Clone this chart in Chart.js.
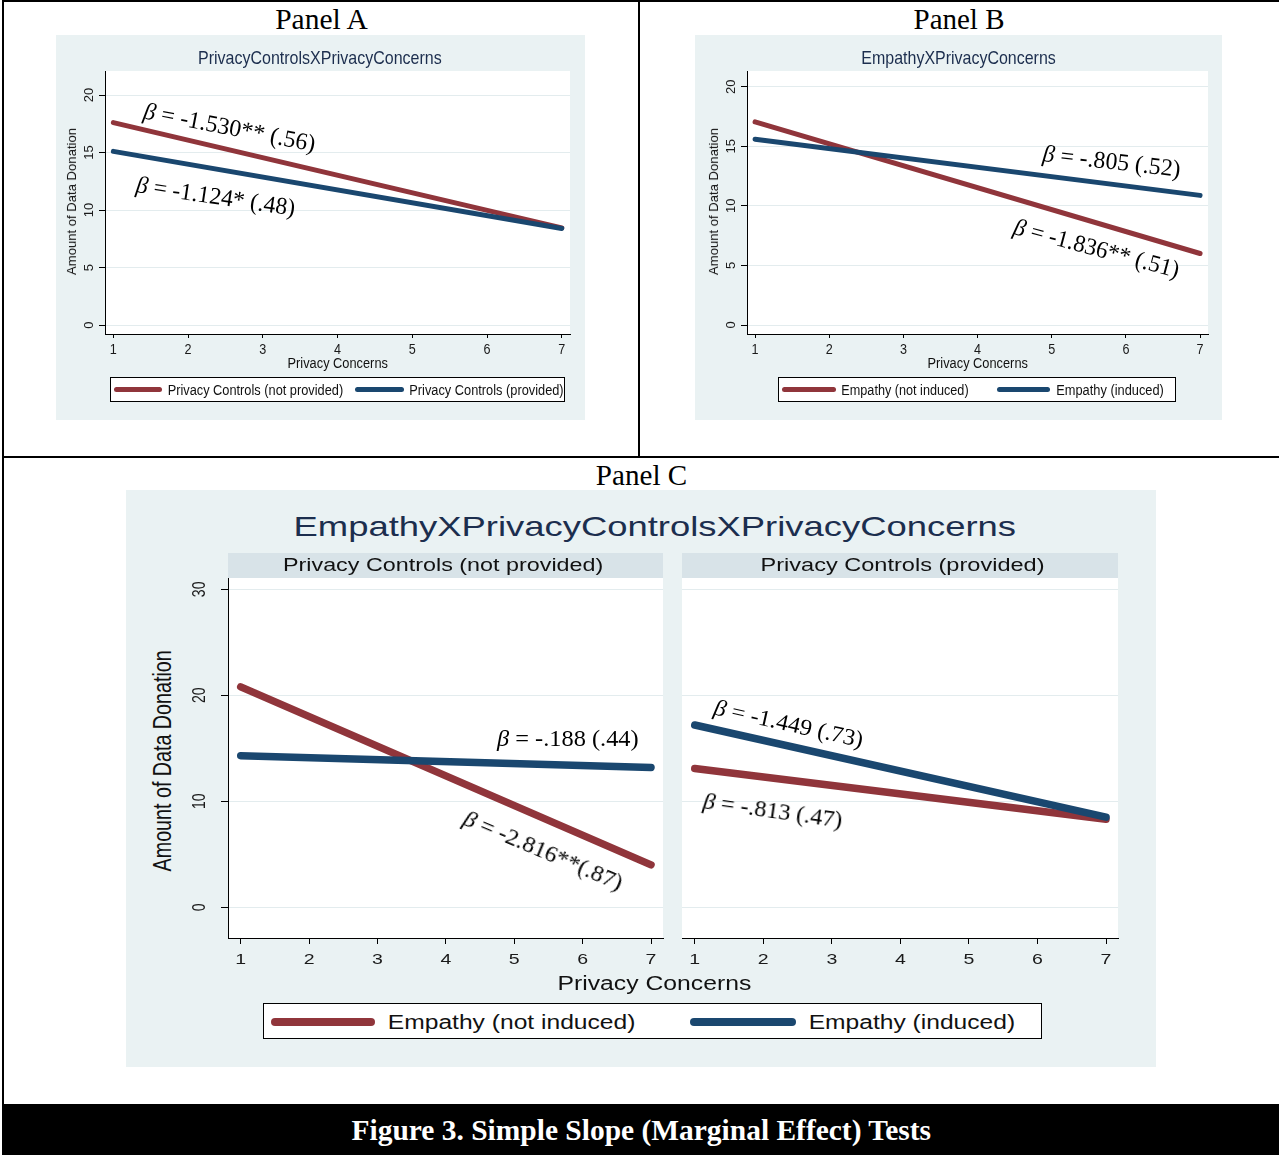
<!DOCTYPE html>
<html><head><meta charset="utf-8">
<script src="https://cdn.jsdelivr.net/npm/chart.js@4.4.1/dist/chart.umd.min.js"></script>
<style>
html,body{margin:0;padding:0;background:#fff;}
body{width:1279px;height:1155px;position:relative;overflow:hidden;}
.box{position:absolute;}
.txt{position:absolute;white-space:nowrap;line-height:1;transform-origin:50% 50%;}
canvas{position:absolute;}
</style></head><body>
<script>
// ---------------- DATA ----------------
const xValues = [1, 7];                 // Privacy Concerns (ends of each fitted line)
const xTicks = [1, 2, 3, 4, 5, 6, 7];
const yTicksAB = [0, 5, 10, 15, 20];
const yTicksC = [0, 10, 20, 30];

const labelsPanelA = ['Privacy Controls (not provided)', 'Privacy Controls (provided)'];
const labelsEmpathy = ['Empathy (not induced)', 'Empathy (induced)'];
const stripLabelsC = ['Privacy Controls (not provided)', 'Privacy Controls (provided)'];

const panelA_notProvided = [17.6, 8.45];
const panelA_provided = [15.1, 8.4];
const panelB_notInduced = [17.05, 6.0];
const panelB_induced = [15.6, 10.88];
const panelC_noCtrl_notInduced = [20.8, 4.0];
const panelC_noCtrl_induced = [14.3, 13.2];
const panelC_ctrl_notInduced = [13.1, 8.3];
const panelC_ctrl_induced = [17.2, 8.5];

const betaA = ['-1.530** (.56)', '-1.124* (.48)'];
const betaB = ['-.805 (.52)', '-1.836** (.51)'];
const betaC = ['-.188 (.44)', '-2.816**(.87)', '-1.449 (.73)', '-.813 (.47)'];

// ---------------- STYLE ----------------
const RED = '#90353b', BLUE = '#1a476f', BG = '#eaf2f3', GRID = '#e3ecee', NAVY = '#1c2e4e';
const SANS = '"Liberation Sans", Arial, sans-serif';
const SERIF = '"Liberation Serif", "Times New Roman", serif';

function box(l, t, w, h, css) {
  const d = document.createElement('div'); d.className = 'box';
  Object.assign(d.style, {left: l + 'px', top: t + 'px', width: w + 'px', height: h + 'px'}, css || {});
  document.body.appendChild(d); return d;
}
function bar(x1, x2, cy, h, color) {
  box(x1, cy - h / 2, x2 - x1, h, {background: color, borderRadius: (h / 2) + 'px'});
}
function text(s) {
  const el = document.createElement('div'); el.className = 'txt';
  if (s.html) el.innerHTML = s.html; else el.textContent = s.t;
  el.style.fontFamily = s.serif ? SERIF : SANS;
  el.style.fontSize = s.size + 'px';
  el.style.color = s.color || '#111';
  if (s.bold) el.style.fontWeight = 'bold';
  document.body.appendChild(el);
  const nw = el.offsetWidth, nh = el.offsetHeight;
  const k = s.w ? s.w / nw : 1;
  el.style.left = (s.x - nw / 2) + 'px';
  el.style.top = (s.y - nh / 2) + 'px';
  el.style.transform = `scaleX(${s.sx || 1}) rotate(${s.rot || 0}deg) scaleX(${k})`;
  return el;
}

// ---------------- FRAME ----------------
box(2, 0, 1277, 2, {background: '#000'});
box(2, 0, 2, 1155, {background: '#000'});
box(638, 0, 2, 457, {background: '#000'});
box(2, 456, 1277, 2, {background: '#000'});
box(2, 1104, 1277, 51, {background: '#000'});

box(56, 35, 529, 385, {background: BG});
box(695, 35, 527, 385, {background: BG});
box(126, 490, 1030, 577, {background: BG});
box(228, 553, 435, 25, {background: '#d8e3e8'});
box(682, 553, 436, 25, {background: '#d8e3e8'});

// ---------------- CHARTS ----------------
const stataPlugin = {
  id: 'stataAxes',
  beforeDraw(chart) {
    const a = chart.chartArea, ctx = chart.ctx;
    ctx.save(); ctx.fillStyle = '#fff';
    ctx.fillRect(a.left, a.top, a.right - a.left, a.bottom - a.top);
    ctx.restore();
  },
  afterDraw(chart, args, o) {
    const ctx = chart.ctx, a = chart.chartArea;
    ctx.save();
    ctx.fillStyle = '#1a1a1a';
    ctx.textAlign = 'center'; ctx.textBaseline = 'alphabetic';
    ctx.font = `${o.xSize}px ${SANS}`;
    chart.scales.x.ticks.forEach(t => {
      const px = chart.scales.x.getPixelForValue(t.value);
      ctx.save(); ctx.translate(px, a.bottom + o.xOffset); ctx.scale(o.xStretch, 1);
      ctx.fillText(String(t.value), 0, o.xSize * 0.358); ctx.restore();
    });
    if (o.showY) {
      ctx.font = `${o.ySize}px ${SANS}`;
      chart.scales.y.ticks.forEach(t => {
        const py = chart.scales.y.getPixelForValue(t.value);
        ctx.save(); ctx.translate(a.left - o.yOffset, py); ctx.scale(o.yStretch, 1); ctx.rotate(-Math.PI / 2);
        ctx.fillText(String(t.value), 0, o.ySize * 0.358); ctx.restore();
      });
    }
    ctx.restore();
  }
};

function makeChart(s) {
  const m = {l: 45, t: 6, r: 6, b: 40};
  const W = s.plot.r - s.plot.l + m.l + m.r, H = s.plot.b - s.plot.t + m.t + m.b;
  const c = document.createElement('canvas');
  c.width = W; c.height = H;
  Object.assign(c.style, {left: (s.plot.l - m.l) + 'px', top: (s.plot.t - m.t) + 'px', width: W + 'px', height: H + 'px'});
  document.body.appendChild(c);
  return new Chart(c, {
    type: 'line',
    data: {
      datasets: s.series.map(se => ({
        label: se.label,
        data: xValues.map((x, i) => ({x: x, y: se.values[i]})),
        borderColor: se.color, backgroundColor: se.color,
        borderWidth: s.lineWidth, borderCapStyle: 'round', borderJoinStyle: 'round',
        pointRadius: 0, tension: 0, fill: false, order: se.order
      }))
    },
    options: {
      responsive: false, animation: false, devicePixelRatio: 1,
      layout: {padding: {left: 0, top: m.t, right: m.r, bottom: 0}},
      plugins: {
        legend: {display: false}, tooltip: {enabled: false}, title: {display: false},
        stataAxes: s.axes
      },
      scales: {
        x: {
          type: 'linear', min: s.xmin, max: s.xmax,
          afterBuildTicks: sc => { sc.ticks = xTicks.map(v => ({value: v})); },
          afterFit: sc => { sc.height = m.b; },
          ticks: {display: false},
          grid: {display: true, drawOnChartArea: false, drawTicks: true, tickLength: s.xTickLen, tickColor: '#000', tickWidth: 1},
          border: {display: true, color: '#000', width: 1}
        },
        y: {
          type: 'linear', min: s.ymin, max: s.ymax,
          afterBuildTicks: sc => { sc.ticks = s.yTicks.map(v => ({value: v})); },
          afterFit: sc => { sc.width = m.l; },
          ticks: {display: false},
          grid: {display: true, color: GRID, lineWidth: 1, drawTicks: s.axes.showY, tickLength: s.yTickLen, tickColor: '#000', tickWidth: 1},
          border: {display: s.axes.showY, color: '#000', width: 1}
        }
      }
    },
    plugins: [stataPlugin]
  });
}

const axesAB = {showY: true, xSize: 14, xStretch: 0.9, xOffset: 14.7, ySize: 13, yStretch: 1, yOffset: 16.2};
makeChart({
  plot: {l: 105, t: 71, r: 570, b: 334}, xmin: 0.888, xmax: 7.11, ymin: -0.78, ymax: 22.09,
  yTicks: yTicksAB, lineWidth: 5, xTickLen: 4, yTickLen: 6, axes: axesAB,
  series: [
    {label: labelsPanelA[0], values: panelA_notProvided, color: RED, order: 2},
    {label: labelsPanelA[1], values: panelA_provided, color: BLUE, order: 1}
  ]
});
makeChart({
  plot: {l: 747, t: 71, r: 1208, b: 334}, xmin: 0.891, xmax: 7.107, ymin: -0.755, ymax: 21.32,
  yTicks: yTicksAB, lineWidth: 5, xTickLen: 4, yTickLen: 6, axes: Object.assign({}, axesAB, {yOffset: 16.4}),
  series: [
    {label: labelsEmpathy[0], values: panelB_notInduced, color: RED, order: 2},
    {label: labelsEmpathy[1], values: panelB_induced, color: BLUE, order: 1}
  ]
});
const axesC = {showY: true, xSize: 15, xStretch: 1.3, xOffset: 20.5, ySize: 14, yStretch: 1.35, yOffset: 30};
makeChart({
  plot: {l: 228, t: 578, r: 663, b: 938}, xmin: 0.814, xmax: 7.175, ymin: -2.9, ymax: 31.07,
  yTicks: yTicksC, lineWidth: 7.5, xTickLen: 6, yTickLen: 7, axes: axesC,
  series: [
    {label: labelsEmpathy[0], values: panelC_noCtrl_notInduced, color: RED, order: 2},
    {label: labelsEmpathy[1], values: panelC_noCtrl_induced, color: BLUE, order: 1}
  ]
});
makeChart({
  plot: {l: 682, t: 578, r: 1118, b: 938}, xmin: 0.814, xmax: 7.175, ymin: -2.9, ymax: 31.07,
  yTicks: yTicksC, lineWidth: 7.5, xTickLen: 6, yTickLen: 7, axes: Object.assign({}, axesC, {showY: false}),
  series: [
    {label: labelsEmpathy[0], values: panelC_ctrl_notInduced, color: RED, order: 2},
    {label: labelsEmpathy[1], values: panelC_ctrl_induced, color: BLUE, order: 1}
  ]
});

// ---------------- LEGENDS ----------------
box(110, 377, 455, 25, {background: '#fff', border: '1px solid #000', boxSizing: 'border-box'});
bar(114, 162, 389.7, 5, RED); bar(355, 404, 389.7, 5, BLUE);
box(778, 377, 398, 25, {background: '#fff', border: '1px solid #000', boxSizing: 'border-box'});
bar(782, 836, 389.7, 5, RED); bar(997, 1050, 389.7, 5, BLUE);
box(263, 1003, 779, 36, {background: '#fff', border: '1.5px solid #000', boxSizing: 'border-box'});
bar(271, 375, 1021.7, 8, RED); bar(690, 796, 1021.7, 8, BLUE);

// ---------------- TEXT ----------------
const T = [
  {t: 'Panel A', serif: true, size: 29, x: 321, y: 19.5, w: 92.6, color: '#000'},
  {t: 'Panel B', serif: true, size: 29, x: 959, y: 19.5, w: 91, color: '#000'},
  {t: 'Panel C', serif: true, size: 29, x: 641.6, y: 475, w: 91.3, color: '#000'},
  {t: 'Figure 3. Simple Slope (Marginal Effect) Tests', serif: true, bold: true, size: 29, x: 641, y: 1130, w: 580, color: '#fff'},

  {t: 'PrivacyControlsXPrivacyConcerns', size: 18.5, x: 319.7, y: 58.5, w: 244, color: NAVY},
  {t: 'Amount of Data Donation', size: 13.1, x: 71, y: 201.7, w: 147, rot: -90},
  {t: 'Privacy Concerns', size: 15.5, x: 337.6, y: 362.7, w: 100},
  {t: labelsPanelA[0], size: 15.5, x: 255.4, y: 390, w: 175.7},
  {t: labelsPanelA[1], size: 15.5, x: 486.2, y: 390, w: 154.4},

  {t: 'EmpathyXPrivacyConcerns', size: 18.5, x: 958.4, y: 58.5, w: 194.3, color: NAVY},
  {t: 'Amount of Data Donation', size: 13.1, x: 713.6, y: 201.3, w: 147, rot: -90},
  {t: 'Privacy Concerns', size: 15.5, x: 977.6, y: 362.7, w: 100},
  {t: labelsEmpathy[0], size: 15.5, x: 905, y: 390, w: 127.3},
  {t: labelsEmpathy[1], size: 15.5, x: 1110.3, y: 390, w: 107.5},

  {t: 'EmpathyXPrivacyControlsXPrivacyConcerns', size: 28, x: 654.5, y: 526.7, w: 723, color: NAVY},
  {t: stripLabelsC[0], size: 17.5, x: 443.3, y: 565.5, w: 320},
  {t: stripLabelsC[1], size: 17.5, x: 902, y: 565.5, w: 284},
  {t: 'Amount of Data Donation', size: 19.7, x: 163.3, y: 761, w: 221, rot: -90, sx: 1.28},
  {t: 'Privacy Concerns', size: 19.5, x: 654, y: 984.2, w: 194},
  {t: labelsEmpathy[0], size: 20, x: 511.5, y: 1021.7, w: 247.4},
  {t: labelsEmpathy[1], size: 20, x: 912, y: 1021.7, w: 206.6}
];
T.forEach(text);

function beta(v, x, y, rot, w, size) {
  text({html: '<i>\u03B2</i> = ' + v, serif: true, size: size, x: x, y: y, rot: rot, w: w, color: '#000'});
}
beta(betaA[0], 229.5, 126.5, 11, 174, 24);
beta(betaA[1], 215.5, 196.3, 8.5, 160, 24);
beta(betaB[0], 1111.4, 160.8, 6.5, 138, 24);
beta(betaB[1], 1096.2, 247.5, 15, 170, 24);
beta(betaC[0], 568, 738, 0, 142, 23);
beta(betaC[1], 543.3, 850, 23, 170, 23);
beta(betaC[2], 788.5, 723.3, 12.5, 152, 23);
beta(betaC[3], 773, 810, 8, 140.6, 23);
</script>
</body></html>
